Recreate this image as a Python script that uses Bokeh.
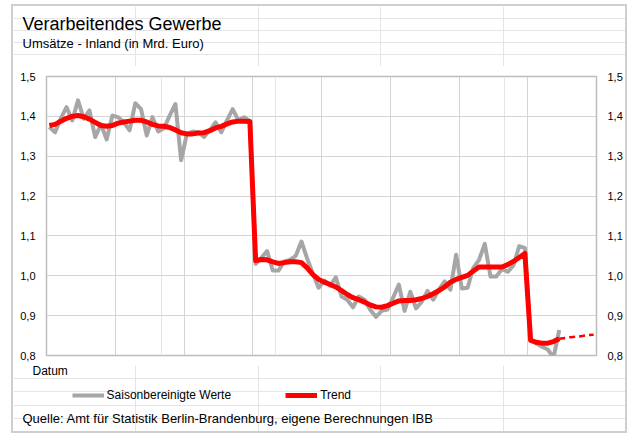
from bokeh.plotting import figure
from bokeh.layouts import column
from bokeh.models import (LinearAxis, FixedTicker, CustomJSTickFormatter, Legend,
                          LegendItem, Range1d, Grid, Label)
from bokeh.embed import file_html
from bokeh.resources import INLINE

# ---------------- data ----------------
title = "Verarbeitendes Gewerbe"
subtitle = "Umsätze - Inland  (in Mrd.  Euro)"
x_title = "Datum"
source_text = "Quelle: Amt für Statistik Berlin-Brandenburg,  eigene Berechnungen  IBB"
series_names = ["Saisonbereinigte Werte", "Trend"]

n_months = 96                      # 8 years of monthly categories
year_ticks = [0, 12, 24, 36, 48, 60, 72, 84, 96]
y_ticks = [0.8, 0.9, 1.0, 1.1, 1.2, 1.3, 1.4, 1.5]

saison = [
    1.373, 1.360, 1.395, 1.423, 1.390, 1.440, 1.394, 1.415, 1.348, 1.380, 1.342, 1.402,
    1.398, 1.385, 1.365, 1.433, 1.418, 1.352, 1.398, 1.362, 1.370, 1.402, 1.431, 1.290,
    1.356, 1.362, 1.360, 1.348, 1.365, 1.385, 1.360, 1.390, 1.418, 1.390, 1.398, 1.388,
    1.030, 1.045, 1.062, 1.013, 1.013, 1.036, 1.040, 1.050, 1.086, 1.043, 1.005, 0.970,
    0.988, 0.975, 0.996, 0.948, 0.940, 0.921, 0.948, 0.940, 0.915, 0.897, 0.912, 0.915,
    0.945, 0.978, 0.912, 0.960, 0.918, 0.935, 0.962, 0.940, 0.965, 0.986, 0.965, 1.053,
    0.968, 0.970, 1.020, 1.040, 1.080, 0.998, 0.998, 1.017, 1.010, 1.026, 1.074, 1.070,
    0.842, 0.830, 0.822, 0.815, 0.795, 0.864,
]

trend = [
    1.377, 1.380, 1.388, 1.395, 1.400, 1.402, 1.399, 1.393, 1.385, 1.377, 1.375, 1.377,
    1.383, 1.386, 1.388, 1.390, 1.390, 1.386, 1.380, 1.376, 1.375, 1.372, 1.366, 1.359,
    1.356, 1.356, 1.358, 1.359, 1.364, 1.371, 1.375, 1.381, 1.386, 1.388, 1.388, 1.387,
    1.038, 1.041, 1.040, 1.035, 1.031, 1.033, 1.035, 1.035, 1.033, 1.020, 1.003, 0.991,
    0.984, 0.978, 0.972, 0.963, 0.953, 0.945, 0.940, 0.934, 0.927, 0.922, 0.921, 0.925,
    0.931, 0.937, 0.938, 0.938, 0.940, 0.943, 0.948, 0.955, 0.963, 0.972, 0.984, 0.991,
    0.996, 1.001, 1.012, 1.022, 1.022, 1.022, 1.022, 1.022, 1.028, 1.036, 1.046, 1.056,
    0.838, 0.833, 0.831, 0.831, 0.835, 0.842,
]

forecast_start = 89
forecast = [0.842, 0.844, 0.846, 0.847, 0.849, 0.851, 0.852]

# category centres
x_saison = [i + 0.5 for i in range(len(saison))]
x_trend = [i + 0.5 for i in range(len(trend))]
x_fc = [forecast_start + i + 0.5 for i in range(len(forecast))]

FONT = "Liberation Sans"
GRID = "#d4d4d4"
GREY = "#a6a6a6"
RED = "#ff0000"
W = 612


def text_panel(height, xr=(0, 1)):
    f = figure(width=W, height=height, x_range=Range1d(*xr), y_range=Range1d(0, 1),
               output_backend="svg", toolbar_location=None,
               x_axis_location=None, y_axis_location=None, min_border=0)
    f.frame_align = False
    f.outline_line_color = None
    f.background_fill_color = "white"
    f.border_fill_color = "white"
    return f


def add_text(f, txt, x, y, size):
    f.add_layout(Label(x=x, y=y, x_units="screen", y_units="screen", text=txt,
                       text_font=FONT, text_font_size=size, text_color="#000000",
                       text_baseline="alphabetic", text_align="left"))


# ---------- header ----------
head = text_panel(60)
add_text(head, title, 9, 43, "18px")
add_text(head, subtitle, 9, 23, "13px")

# ---------- chart ----------
p = figure(width=W, height=299, x_range=Range1d(0, n_months), y_range=Range1d(0.8, 1.5),
           output_backend="svg", toolbar_location=None, x_axis_location=None,
           min_border_left=33, min_border_right=29, min_border_top=10, min_border_bottom=10)
p.frame_align = False
p.background_fill_color = "white"
p.border_fill_color = "white"
p.outline_line_color = "#bdbdbd"
p.outline_line_width = 1.5

fmt = CustomJSTickFormatter(code="return tick.toFixed(1).replace('.', ',');")


def style_axis(ax):
    ax.ticker = FixedTicker(ticks=y_ticks)
    ax.formatter = fmt
    ax.major_tick_out = 0
    ax.major_tick_in = 0
    ax.minor_tick_out = 0
    ax.minor_tick_in = 0
    ax.axis_line_color = None
    ax.major_label_standoff = 11
    ax.major_label_text_font = FONT
    ax.major_label_text_font_size = "11px"
    ax.major_label_text_color = "#000000"


style_axis(p.yaxis[0])
right_axis = LinearAxis()
style_axis(right_axis)
p.add_layout(right_axis, "right")

p.ygrid.ticker = FixedTicker(ticks=y_ticks)
p.ygrid.grid_line_color = GRID
p.add_layout(Grid(dimension=0, ticker=FixedTicker(ticks=year_ticks), grid_line_color=GRID))

p.line(x_saison, saison, line_color=GREY, line_width=4, line_join="round")
p.line(x_trend, trend, line_color=RED, line_width=5, line_join="round")
p.line(x_fc, forecast, line_color=RED, line_width=2.5, line_dash="6 4")

# ---------- footer: axis title, legend, source ----------
# x range chosen so that the legend's source lines stay off-canvas
foot = text_panel(66, xr=(-3, -2))
add_text(foot, x_title, 19, 61, "12px")
add_text(foot, source_text, 9, 13, "13px")

lg_saison = foot.line(x_saison, saison, line_color=GREY, line_width=4)
lg_trend = foot.line(x_trend, trend, line_color=RED, line_width=5)
legend = Legend(items=[LegendItem(label=series_names[0], renderers=[lg_saison]),
                       LegendItem(label=series_names[1], renderers=[lg_trend])],
                location=(58.6, 29), orientation="horizontal",
                glyph_width=32, glyph_height=14, label_height=14, label_standoff=3,
                spacing=54, padding=0, margin=0, border_line_color=None,
                background_fill_alpha=0, label_text_font=FONT, label_text_font_size="12px",
                label_text_color="#000000")
foot.add_layout(legend, "center")

layout = column(head, p, foot, spacing=0, margin=(6, 6, 3, 13),
                styles={"outline": "2px solid #cfcfcf"})

open("out.html", "w").write(file_html(layout, INLINE))
